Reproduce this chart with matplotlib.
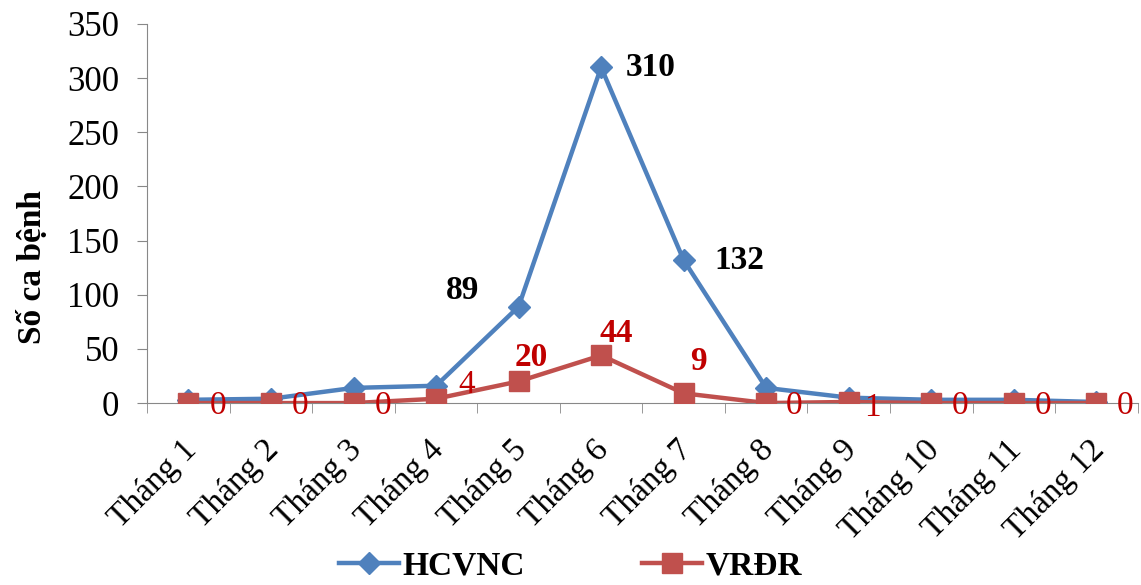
import matplotlib.pyplot as plt
import matplotlib.transforms as mtransforms
import numpy as np

plt.rcParams['font.family'] = ['Liberation Serif', 'DejaVu Serif']

months = ['Tháng 1', 'Tháng 2', 'Tháng 3', 'Tháng 4', 'Tháng 5', 'Tháng 6',
          'Tháng 7', 'Tháng 8', 'Tháng 9', 'Tháng 10', 'Tháng 11', 'Tháng 12']
hcvnc = [3, 4, 14, 16, 89, 310, 132, 14, 5, 3, 3, 1]
vrdr = [0, 0, 0, 4, 20, 44, 9, 0, 1, 0, 0, 0]

# which points get a value label, and where (offset in points)
hcvnc_labels = {4: (-40, 12), 5: (36, 0), 6: (40, 0)}
vrdr_offsets = [(21, -2), (21, -2), (21, -2), (22, 10), (9, 17), (11, 16),
                (11, 23), (20, -2), (17, -4), (21, -2), (21, -2), (21, -2)]
vrdr_bold = {4, 5, 6}

blue = '#4F81BD'
red = '#C0504D'
lab_red = '#C00000'

fig = plt.figure(figsize=(11.41, 5.85), dpi=100)
ax = fig.add_axes([0.129, 0.311, 0.868, 0.648])

x = np.arange(len(months))
ax.plot(x, hcvnc, color=blue, lw=3.2, marker='D', ms=11, mec=blue, label='HCVNC', zorder=3)
ax.plot(x, vrdr, color=red, lw=3.2, marker='s', ms=15, mec=red, label='VRĐR', zorder=4)

for i, (dx, dy) in hcvnc_labels.items():
    ax.annotate(str(hcvnc[i]), (x[i], hcvnc[i]), xytext=(dx, dy), textcoords='offset points',
                ha='center', va='center', fontsize=24, fontweight='bold', color='black')

for i, v in enumerate(vrdr):
    dx, dy = vrdr_offsets[i]
    ax.annotate(str(v), (x[i], v), xytext=(dx, dy), textcoords='offset points',
                ha='center', va='center', fontsize=24, color=lab_red,
                fontweight='bold' if i in vrdr_bold else 'normal', zorder=5)

ax.set_xlim(-0.5, len(months) - 0.5)
ax.set_ylim(0, 350)
ax.set_yticks(range(0, 351, 50))
ax.set_xticks(x)
ax.set_xticklabels(months, rotation=45, ha='right', rotation_mode='anchor', fontsize=24)
ax.set_xticks(np.arange(-0.5, len(months), 1), minor=True)
ax.tick_params(axis='x', which='major', length=0, pad=8)
ax.tick_params(axis='x', which='minor', length=7, color='#888888', direction='out')
ax.tick_params(axis='y', labelsize=25, length=7, color='#888888', pad=13)

# nudge the slanted month labels down and slightly left
shift = mtransforms.ScaledTranslation(-8 / 100, -20 / 100, fig.dpi_scale_trans)
for lbl in ax.get_xticklabels():
    lbl.set_transform(lbl.get_transform() + shift)

ax.set_ylabel('Số ca bệnh', fontsize=24, fontweight='bold')
ax.yaxis.set_label_coords(-0.100, 0.36)

for side in ('top', 'right'):
    ax.spines[side].set_visible(False)
ax.spines['left'].set_color('#888888')
ax.spines['bottom'].set_color('#888888')

fig.legend(loc='center', bbox_to_anchor=(0.5, 0.032), ncol=2, frameon=False,
           prop={'size': 24, 'weight': 'bold'}, columnspacing=3.5, handlelength=1.8,
           handletextpad=0.1)

fig.savefig('out.png', dpi=100)
